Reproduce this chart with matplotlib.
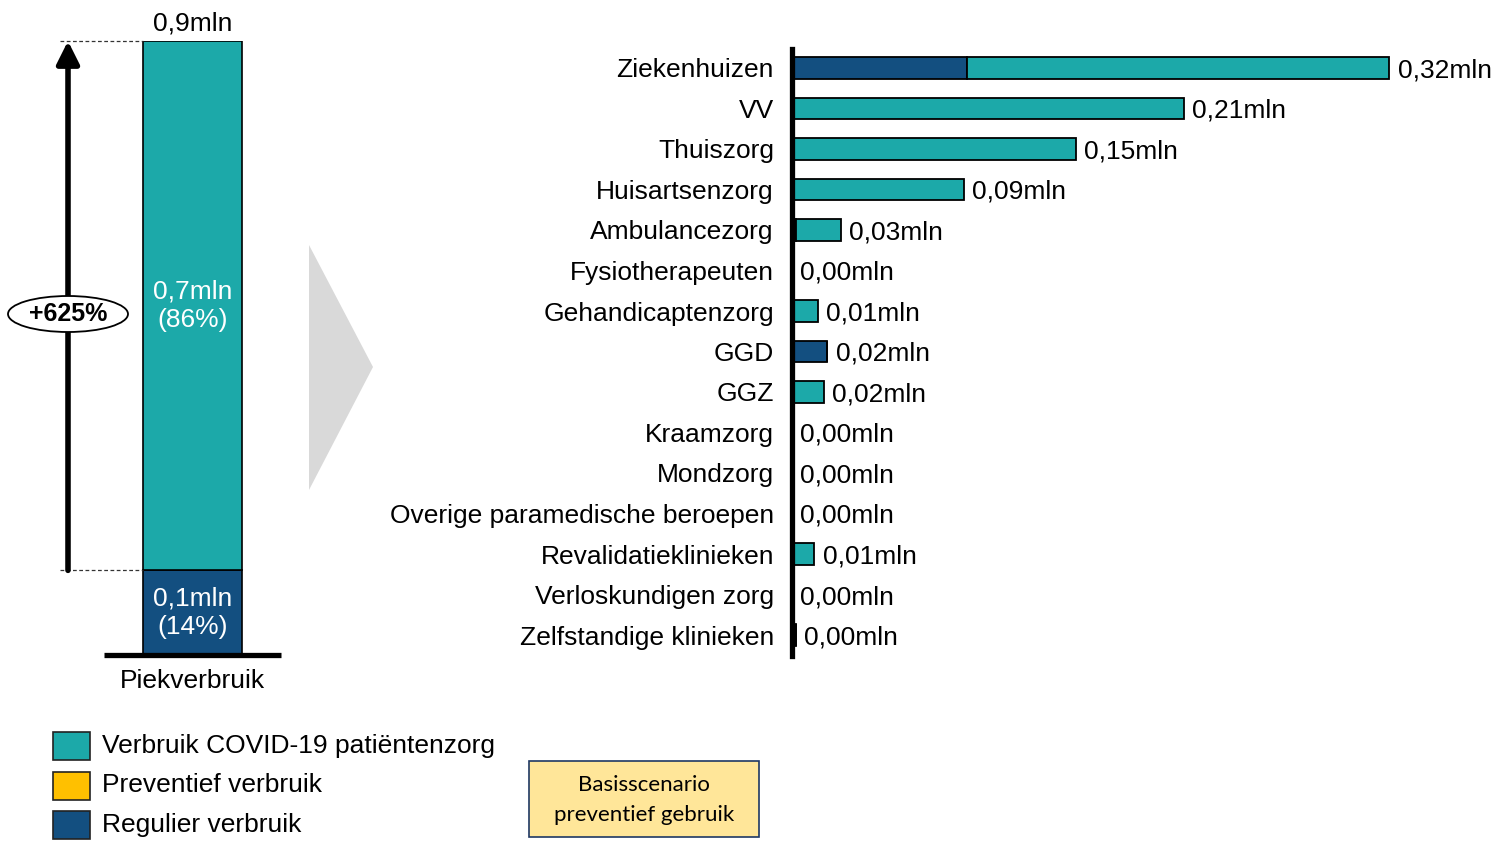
import numpy as np
import matplotlib.pyplot as plt
from matplotlib.patches import Ellipse, Polygon, Rectangle

plt.rcParams['font.family'] = ['Liberation Sans', 'DejaVu Sans']

# data
categorieen = ["Ziekenhuizen", "VV", "Thuiszorg", "Huisartsenzorg", "Ambulancezorg",
               "Fysiotherapeuten", "Gehandicaptenzorg", "GGD", "GGZ", "Kraamzorg",
               "Mondzorg", "Overige paramedische beroepen", "Revalidatieklinieken",
               "Verloskundigen zorg", "Zelfstandige klinieken"]
regulier = [0.094, 0, 0, 0, 0.002, 0, 0, 0.019, 0, 0, 0, 0, 0, 0, 0.002]
covid = [0.226, 0.21, 0.152, 0.092, 0.024, 0, 0.014, 0, 0.017, 0, 0, 0, 0.012, 0, 0]

piek_regulier = 0.118
piek_covid = 0.738
piek_label = "Piekverbruik"

legenda = ["Verbruik COVID-19 patiëntenzorg", "Preventief verbruik", "Regulier verbruik"]
scenario = "Basisscenario\npreventief gebruik"

TEAL = "#1CA9A9"
BLAUW = "#134F80"
GEEL = "#FFC000"
FS = 19

W, H = 1498, 843
fig = plt.figure(figsize=(W / 100, H / 100), dpi=100)

def fmt(v, d):
    return f"{v:.{d}f}".replace(".", ",")

# --- linker staaf ---
totaal = piek_regulier + piek_covid
ax1 = fig.add_axes([0, (H - 655) / H, 300 / W, 614 / H])
ax1.set_xlim(0, 300)
ax1.set_ylim(0, totaal)
ax1.axis("off")
bx = 192.5
ax1.bar(bx, piek_regulier, width=99, color=BLAUW, edgecolor="black", lw=1.2)
ax1.bar(bx, piek_covid, width=99, bottom=piek_regulier, color=TEAL, edgecolor="black", lw=1.2)
ax1.plot([104, 281], [0, 0], color="black", lw=3.8, clip_on=False, solid_capstyle="butt")
ax1.text(bx, piek_regulier / 2, f"{fmt(piek_regulier, 1)}mln\n({piek_regulier / totaal * 100:.0f}%)",
         color="white", ha="center", va="center", fontsize=FS, linespacing=1.2)
ax1.text(bx, piek_regulier + piek_covid / 2, f"{fmt(piek_covid, 1)}mln\n({piek_covid / totaal * 100:.0f}%)",
         color="white", ha="center", va="center", fontsize=FS, linespacing=1.2)
ax1.annotate(f"{fmt(totaal, 1)}mln", xy=(bx, totaal), xytext=(0, 4), textcoords="offset points",
             ha="center", va="bottom", fontsize=FS, annotation_clip=False)
ax1.annotate(piek_label, xy=(bx, 0), xytext=(0, -10), textcoords="offset points",
             ha="center", va="top", fontsize=FS, annotation_clip=False)

# pijl en stippellijnen
for yv in [totaal, piek_regulier]:
    ax1.plot([60, 143], [yv, yv], color="#333333", lw=0.9, ls=(0, (3, 2)), clip_on=False)
ax1.annotate("", xy=(68, totaal), xytext=(68, piek_regulier),
             arrowprops=dict(arrowstyle="-|>", lw=4, color="black", mutation_scale=34,
                             shrinkA=0, shrinkB=0))
ey = totaal * (655 - 314) / 614
ax1.add_patch(Ellipse((68, ey), 120, totaal * 36 / 614, facecolor="white", edgecolor="black",
                      lw=1.3, zorder=5, clip_on=False))
ax1.text(68, ey, f"+{piek_covid / piek_regulier * 100:.0f}%", ha="center", va="center",
         fontsize=18, fontweight="bold", zorder=6)

# --- rechter staven ---
ax2 = fig.add_axes([792 / W, (H - 656) / H, (W - 792) / W, 607 / H])
y = np.arange(len(categorieen))
reg = np.array(regulier)
cov = np.array(covid)
ax2.barh(y, reg, height=0.54, color=BLAUW, edgecolor="black", lw=1.3)
ax2.barh(y, cov, left=reg, height=0.54, color=TEAL, edgecolor="black", lw=1.3)
for i, t in enumerate(reg + cov):
    ax2.annotate(f"{fmt(t, 2)}mln", xy=(t, i), xytext=(6, 0), textcoords="offset points",
                 va="center_baseline", ha="left", fontsize=FS)
ax2.set_xlim(0, 0.3783)
ax2.set_ylim((656 - 68) / 40.5, -19 / 40.5)
ax2.set_yticks(y)
ax2.set_yticklabels(categorieen, fontsize=FS)
ax2.tick_params(axis="y", length=0, pad=13)
ax2.set_xticks([])
for s in ["top", "right", "bottom"]:
    ax2.spines[s].set_visible(False)
ax2.spines["left"].set_linewidth(3.8)
ax2.patch.set_alpha(0)

# --- overlay: pijlvorm, legenda, kader ---
ax0 = fig.add_axes([0, 0, 1, 1], zorder=-1)
ax0.set_xlim(0, W)
ax0.set_ylim(H, 0)
ax0.axis("off")
ax0.add_patch(Polygon([(309, 245), (373, 367), (309, 490)], closed=True, color="#D9D9D9", lw=0))

for k, (lab, col) in enumerate(zip(legenda, [TEAL, GEEL, BLAUW])):
    yc = 746 + k * 39.5
    ax0.add_patch(Rectangle((53, yc - 14), 37, 28, facecolor=col, edgecolor="#222222", lw=1.2))
    ax0.text(102, yc, lab, va="center", ha="left", fontsize=FS)

ax0.add_patch(Rectangle((529, 761), 230, 76, facecolor="#FFE699", edgecolor="#1F3864", lw=1.2))
ax0.text(644, 800, scenario, ha="center", va="center", fontsize=16, family=["Lato", "DejaVu Sans"],
         linespacing=1.6)

fig.savefig("out.png", dpi=100)
